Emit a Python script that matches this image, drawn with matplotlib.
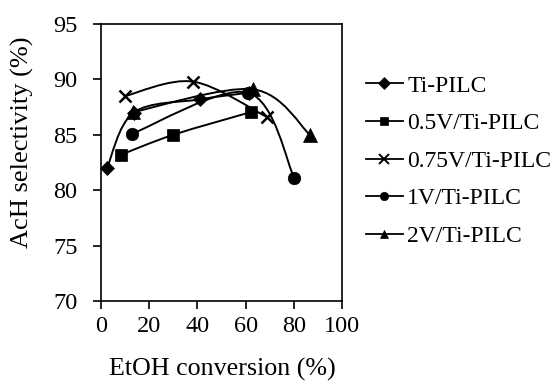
import numpy as np
import matplotlib
matplotlib.use("Agg")
from matplotlib import pyplot as plt
from matplotlib.path import Path
from matplotlib.patches import PathPatch
from matplotlib.lines import Line2D

plt.rcParams["font.family"] = ["Liberation Serif", "DejaVu Serif"]

# data
labels = ["Ti-PILC", "0.5V/Ti-PILC", "0.75V/Ti-PILC", "1V/Ti-PILC", "2V/Ti-PILC"]
ti_x = [2.5, 13.5, 41.0, 61.5]
ti_y = [82.0, 87.0, 88.2, 88.8]
v05_x = [8.3, 30.0, 62.2]
v05_y = [83.2, 85.0, 87.05]
v075_x = [10.0, 38.2, 68.9]
v075_y = [88.5, 89.8, 86.6]
v1_x = [12.9, 61.0, 80.2]
v1_y = [85.1, 88.8, 81.1]
v2_x = [13.3, 63.2, 86.7]
v2_y = [87.05, 89.1, 85.0]

x_ticks = [0, 20, 40, 60, 80, 100]
y_ticks = [70, 75, 80, 85, 90, 95]

series = [
    (ti_x, ti_y, "D", 7),
    (v05_x, v05_y, "s", 9),
    (v075_x, v075_y, "x", 8.5),
    (v1_x, v1_y, "o", 9),
    (v2_x, v2_y, "^", 9.5),
]


def smooth_line(ax, xs, ys, lw=1.4):
    # excel style smoothed line: catmull-rom bezier computed in screen space
    pts = ax.transData.transform(np.column_stack([xs, ys]))
    n = len(pts)
    verts = [pts[0]]
    codes = [Path.MOVETO]
    for i in range(n - 1):
        p0 = pts[max(i - 1, 0)]
        p1 = pts[i]
        p2 = pts[i + 1]
        p3 = pts[min(i + 2, n - 1)]
        c1 = p1 + (p2 - p0) / 6.0
        c2 = p2 - (p3 - p1) / 6.0
        verts += [c1, c2, p2]
        codes += [Path.CURVE4] * 3
    inv = ax.transData.inverted()
    verts = inv.transform(np.array(verts))
    patch = PathPatch(Path(verts, codes), fill=False, lw=lw, edgecolor="black",
                      transform=ax.transData, zorder=2, clip_on=False)
    ax.add_patch(patch)


fig = plt.figure(figsize=(5.58, 3.82), dpi=100)
ax = fig.add_axes([101 / 558, 1 - 301 / 382, 241 / 558, 277 / 382])
ax.set_xlim(0, 100)
ax.set_ylim(70, 95)

for xs, ys, m, ms in series:
    smooth_line(ax, xs, ys)
    ax.plot(xs, ys, linestyle="none", marker=m, markersize=ms, color="black",
            markeredgewidth=1.8 if m == "x" else 0.5, zorder=3, clip_on=False)

ax.set_xticks(x_ticks)
ax.set_yticks(y_ticks)
ax.tick_params(direction="out", length=6, width=1.2, labelsize=17.5, colors="black")
ax.tick_params(axis="x", pad=5)
ax.tick_params(axis="y", pad=11)
for s in ax.spines.values():
    s.set_linewidth(1.2)

fig.text(222 / 558, 1 - 369 / 382, "EtOH conversion (%)", fontsize=18.7,
         ha="center", va="center")
fig.text(22 / 558, 1 - 142 / 382, "AcH selectivity (%)", fontsize=19,
         ha="center", va="center", rotation=90)

handles = [Line2D([0], [0], color="black", lw=1.3, marker=m,
                  markersize=6 if m != "x" else 6.5, markeredgewidth=1.4 if m == "x" else 0.5)
           for _, _, m, _ in series]
fig.legend(handles, labels, loc="center left", bbox_to_anchor=(366 / 558, 1 - 161 / 382),
           frameon=False, fontsize=17, handlelength=1.55, handletextpad=0.2,
           labelspacing=0.68, borderpad=0, borderaxespad=0)

fig.savefig("out.png", dpi=100)
